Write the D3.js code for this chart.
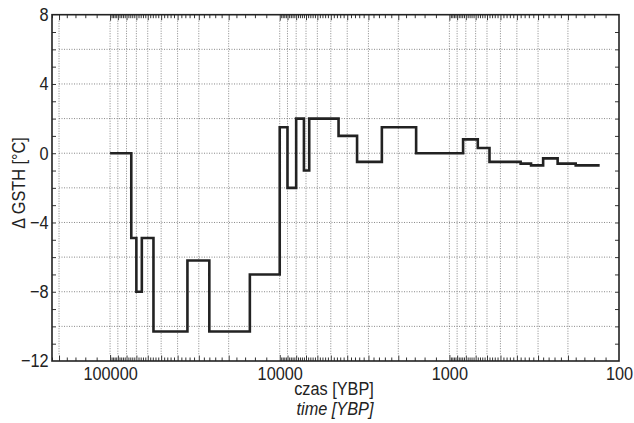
<!DOCTYPE html>
<html lang="pl">
<head>
  <meta charset="UTF-8" />
  <title>GSTH</title>
  <style>
    body { margin:0; background:#fff; }
    svg text { font-family:"Liberation Sans",Arial,sans-serif; fill:#222; }
  </style>
</head>
<body>
  <svg id="chart" width="634" height="423"></svg>
  <script src="https://d3js.org/d3.v7.min.js"></script>
  <script>
  // step boundaries (years before present) and the value on each step
  const stepYears  = [100000, 75000, 70000, 65000, 55500, 35000, 26000, 15000, 10000, 9000,
                      8000, 7200, 6700, 4500, 3500, 2500, 1570, 830, 680, 580,
                      380, 330, 280, 230, 180, 130];
  const stepValues = [0, -4.9, -8, -4.9, -10.3, -6.2, -10.3, -7, 1.5, -2,
                      2, -1, 2, 1, -0.5, 1.5, 0, 0.8, 0.3, -0.5,
                      -0.6, -0.7, -0.3, -0.6, -0.7];
  const xMajorTicks = [100000, 10000, 1000, 100];
  const yLabelTicks = [-12, -8, -4, 0, 4, 8];

  const svg = d3.select("#chart");
  const L = 52, R = 619, T = 14.7, B = 361;
  const FS = "18.5px", SQ = "scale(0.88,1)";   // condensed look
  const x = d3.scaleLog().domain([220000, 100]).range([L, R]);
  const y = d3.scaleLinear().domain([-12, 8]).range([B, T]);

  // minor ticks: m*10^k, m = 1.2..10 step 0.2; long ones at whole m
  const shortTicks = [], longTicks = [], gridX = [];
  [100, 1000, 10000, 100000].forEach(p => {
    for (let i = 6; i <= 50; i++) {
      const v = p * i / 5;
      if (v > 220000 || v >= p * 10) continue;
      if (i % 5 === 0) { longTicks.push(v); gridX.push(v); }
      else shortTicks.push(v);
    }
  });
  gridX.push(100000, 10000, 1000);

  // grid
  const grid = svg.append("g").attr("stroke", "#6a6a6a").attr("stroke-width", 0.8)
                  .attr("stroke-dasharray", "1,1.5");
  grid.selectAll(".gx").data(gridX).join("line")
      .attr("x1", d => x(d)).attr("x2", d => x(d))
      .attr("y1", T + 6).attr("y2", B - 6);
  grid.selectAll(".gy").data(d3.range(-10, 8, 2)).join("line")
      .attr("x1", x(200000)).attr("x2", x(110))
      .attr("y1", d => y(d)).attr("y2", d => y(d));

  // x tick marks on top and bottom (pointing in)
  function xt(vals, len) {
    svg.append("g").attr("transform", `translate(0,${B})`)
       .call(d3.axisBottom(x).tickValues(vals).tickSize(-len).tickFormat(""))
       .call(g => g.select(".domain").remove())
       .selectAll("line").attr("stroke", "#333");
    svg.append("g").attr("transform", `translate(0,${T})`)
       .call(d3.axisTop(x).tickValues(vals).tickSize(-len).tickFormat(""))
       .call(g => g.select(".domain").remove())
       .selectAll("line").attr("stroke", "#333");
  }
  xt(shortTicks, 3.5);
  xt(longTicks, 5.5);
  xt(xMajorTicks.filter(d => d > 100), 6);

  // x labels
  svg.append("g").attr("transform", `translate(0,${B})`)
     .call(d3.axisBottom(x).tickValues(xMajorTicks).tickSize(0).tickPadding(6)
             .tickFormat(d3.format("d")))
     .call(g => g.select(".domain").remove())
     .selectAll("text").style("font-size", FS).attr("transform", SQ);

  // y ticks on both sides
  const yAll = d3.range(-11, 8, 1);
  svg.append("g").attr("transform", `translate(${L},0)`)
     .call(d3.axisLeft(y).tickValues(yAll).tickSize(-4).tickFormat(""))
     .call(g => g.select(".domain").remove())
     .selectAll("line").attr("stroke", "#333");
  svg.append("g").attr("transform", `translate(${R},0)`)
     .call(d3.axisRight(y).tickValues(yAll).tickSize(-4).tickFormat(""))
     .call(g => g.select(".domain").remove())
     .selectAll("line").attr("stroke", "#333");
  svg.append("g").attr("transform", `translate(${L},0)`)
     .call(d3.axisLeft(y).tickValues(yLabelTicks).tickSize(0).tickPadding(4))
     .call(g => g.select(".domain").remove())
     .selectAll("text").style("font-size", FS).attr("transform", SQ);

  // frame
  svg.append("rect").attr("x", L).attr("y", T).attr("width", R - L).attr("height", B - T)
     .attr("fill", "none").attr("stroke", "#222").attr("stroke-width", 1.6);

  // step line
  const pts = stepYears.map((yr, i) => [yr, stepValues[Math.min(i, stepValues.length - 1)]]);
  svg.append("path").datum(pts)
     .attr("fill", "none").attr("stroke", "#222").attr("stroke-width", 2.6)
     .attr("stroke-linejoin", "miter")
     .attr("d", d3.line().x(d => x(d[0])).y(d => y(d[1])).curve(d3.curveStepAfter));

  // axis titles
  svg.append("text").attr("transform", `translate(334,395) ${SQ}`).attr("text-anchor", "middle")
     .style("font-size", FS).text("czas [YBP]");
  svg.append("text").attr("transform", `translate(335,415) ${SQ}`).attr("text-anchor", "middle")
     .style("font-size", FS).style("font-style", "italic").text("time [YBP]");
  svg.append("text").attr("transform", "translate(25,183) rotate(-90) scale(0.88,1)")
     .attr("text-anchor", "middle").style("font-size", FS).text("\u0394 GSTH [°C]");
  </script>
</body>
</html>
